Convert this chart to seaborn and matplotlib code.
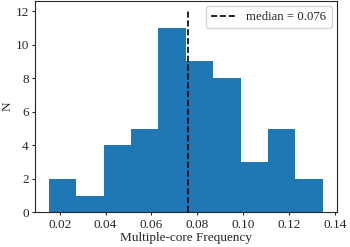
import matplotlib
matplotlib.use("Agg")
import matplotlib.pyplot as plt
import seaborn as sns

# histogram: bin edges and counts per bin
bin_edges = [0.0152, 0.0272, 0.0391, 0.0511, 0.0630, 0.0750,
             0.0870, 0.0989, 0.1109, 0.1228, 0.1348]
counts = [2, 1, 4, 5, 11, 9, 8, 3, 5, 2]
median_value = 0.076
median_top = 12

sns.set_style("ticks")
plt.rcParams['font.family'] = ['Liberation Serif', 'DejaVu Serif']
plt.rcParams['font.size'] = 9.5
plt.rcParams['xtick.major.size'] = 2.5
plt.rcParams['ytick.major.size'] = 2.5
plt.rcParams['xtick.major.pad'] = 2
plt.rcParams['ytick.major.pad'] = 2

bin_left = bin_edges[:-1]

fig, ax = plt.subplots(figsize=(3.5, 2.47), dpi=100)
sns.histplot(
    x=bin_left,
    weights=counts,
    bins=bin_edges,
    color='#1f77b4',
    alpha=1,
    linewidth=0,
    ax=ax
)
ax.vlines(median_value, 0, median_top, colors='black', linestyles='--',
          linewidth=1.2, label=f"median = {median_value}")
ax.margins(x=0.05, y=0.05)
ax.set_ylim(0, median_top * 1.05)
ax.set_yticks([0, 2, 4, 6, 8, 10, 12])
ax.set_xticks([0.02, 0.04, 0.06, 0.08, 0.10, 0.12, 0.14])
ax.tick_params(labelsize=9.5)
ax.set_xlabel("Multiple-core Frequency", labelpad=1)
ax.set_ylabel("N", labelpad=1)
for side in ['top', 'right', 'left', 'bottom']:
    ax.spines[side].set_visible(True)
    ax.spines[side].set_linewidth(0.8)
ax.legend(loc='upper right', fontsize=9.2, handlelength=2.0,
          borderaxespad=0.4)

fig.subplots_adjust(left=0.1, right=0.962, top=0.996, bottom=0.14)
fig.savefig("out.png", dpi=100)
